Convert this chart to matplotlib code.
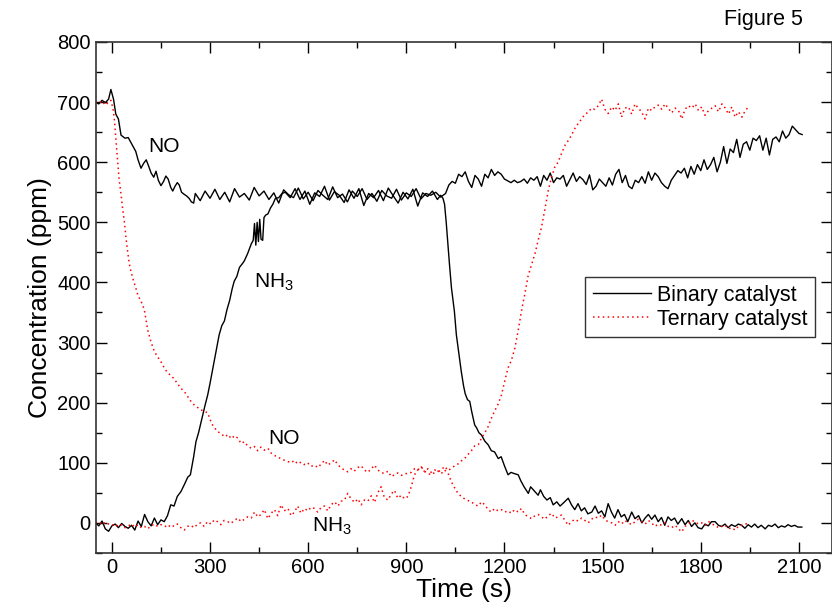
import numpy as np
import matplotlib.pyplot as plt
from matplotlib.ticker import MultipleLocator

plt.rcParams['font.family'] = ['Liberation Sans', 'DejaVu Sans']
plt.rcParams['mathtext.fontset'] = 'custom'
plt.rcParams['mathtext.rm'] = 'Liberation Sans'
plt.rcParams['mathtext.it'] = 'Liberation Sans:italic'

# Binary catalyst, NO
bin_no_t = [-50, -40, -30, -20, -10, -3, 5, 12, 20, 28, 40, 50, 58, 66, 73, 80, 89, 97, 105, 112,
            120, 128, 135, 142, 150, 158, 165, 172, 180, 186, 193, 200, 206, 213, 220, 228, 236, 243, 250,
            255, 270, 285, 300, 315, 330, 345, 360, 375, 390, 405, 420, 435, 450, 465, 480, 495, 510, 525,
            540, 555, 570, 585, 600, 615, 630, 645, 660, 675, 690, 705, 720, 735, 750, 765, 780, 795, 810,
            825, 840, 855, 870, 885, 900, 915, 930, 945, 960, 975, 990, 1005,
            1020, 1030, 1040, 1050, 1060, 1070, 1080, 1090, 1100, 1110, 1120, 1130, 1140, 1150, 1160, 1170,
            1180, 1190, 1200, 1210, 1220, 1230, 1240, 1250, 1260, 1270, 1280, 1290, 1300, 1310, 1320, 1330,
            1340, 1350, 1360, 1370, 1380, 1390, 1400, 1410, 1420, 1430, 1440, 1450, 1460, 1470, 1480, 1490,
            1500, 1510, 1520, 1530, 1540, 1550, 1560, 1570, 1580, 1590, 1600, 1610, 1620, 1630, 1640, 1650,
            1660, 1670, 1680, 1690, 1700, 1710, 1720, 1730, 1740, 1750, 1760, 1770, 1780, 1790, 1800, 1810,
            1820, 1830, 1840, 1850, 1860, 1870, 1880, 1890, 1900, 1910, 1920, 1930, 1940, 1950, 1960, 1970,
            1980, 1990, 2000, 2010, 2020, 2030, 2040, 2050, 2060, 2070, 2080, 2090, 2100, 2110]
bin_no_c = [700, 697, 703, 699, 705, 721, 705, 680, 672, 645, 640, 641, 633, 625, 618, 604, 590, 598, 604, 594,
            582, 575, 585, 570, 561, 568, 577, 572, 558, 552, 560, 566, 562, 550, 547, 544, 540, 534, 532,
            548, 536, 552, 540, 555, 538, 550, 534, 556, 542, 548, 537, 558, 544, 552, 538, 549, 532, 554,
            546, 541, 557, 539, 550, 536, 553, 545, 538, 559, 541, 547, 534, 552, 543, 556, 538, 548, 535,
            553, 544, 540, 555, 537, 549, 543, 556, 539, 548, 545, 550, 542,
            548, 562, 568, 565, 580, 576, 584, 568, 558, 578, 572, 560, 580, 574, 588, 578,
            584, 580, 572, 569, 566, 570, 566, 568, 572, 565, 574, 570, 576, 560, 578, 570,
            582, 566, 574, 572, 578, 560, 571, 582, 568, 576, 571, 563, 579, 554, 560, 572,
            566, 560, 574, 562, 580, 588, 566, 578, 560, 556, 570, 566, 576, 565, 584, 570,
            582, 576, 566, 560, 556, 570, 578, 586, 582, 590, 574, 593, 580, 596, 586, 604,
            588, 596, 608, 584, 600, 626, 598, 622, 616, 638, 608, 630, 634, 620, 640, 636,
            644, 620, 640, 612, 638, 642, 634, 652, 640, 646, 660, 654, 648, 646]

# Binary catalyst, NH3
bin_nh3_t = [-50, -40, -30, -20, -10, 0, 10, 20, 30, 40, 50, 60, 70, 80, 90, 100, 110, 120, 130, 140,
             150, 160, 170, 180, 190, 200, 211, 220, 232, 240, 250, 257, 265, 278, 285, 293, 300, 313, 320,
             328, 336, 344, 352, 360, 368, 374, 382, 390, 400, 405, 415, 426, 432, 436, 440, 444, 448, 452,
             456, 461, 465, 470, 477, 485, 492, 500, 510, 520,
             530, 545, 560, 575, 590, 605, 620, 635, 650, 665, 680, 695, 710, 725, 740, 755, 770, 785, 800,
             815, 830, 845, 860, 875, 890, 905, 920, 935, 950, 965, 980, 995,
             1005, 1012, 1017, 1022, 1027, 1032, 1038, 1047, 1053, 1060, 1068, 1075, 1080, 1087, 1094, 1100,
             1109, 1115, 1122, 1130, 1140, 1150, 1160, 1170, 1181, 1190, 1200, 1211, 1220, 1230, 1242, 1250,
             1260, 1273, 1280, 1290, 1303, 1310, 1320, 1330, 1340, 1349, 1360, 1370, 1380, 1395, 1405, 1415,
             1425, 1435, 1445, 1455, 1467, 1477, 1487, 1497, 1507, 1517, 1527, 1537, 1547, 1557, 1567, 1577,
             1589, 1599, 1610, 1620, 1630, 1640, 1650, 1660, 1670, 1680, 1690, 1700, 1710, 1720, 1730, 1742,
             1752, 1762, 1772, 1782, 1792, 1803, 1813, 1823, 1833, 1844, 1854, 1864, 1874, 1884, 1894, 1905,
             1915, 1925, 1935, 1945, 1955, 1965, 1975, 1985, 1997, 2007, 2017, 2027, 2037, 2047, 2057, 2067,
             2077, 2087, 2097, 2109]
bin_nh3_c = [0, -5, 3, -10, -14, -5, -2, -8, -1, -6, -9, -4, -12, 3, -6, 14, 2, -5, 8, -3,
             5, 2, 12, 30, 28, 44, 52, 62, 76, 80, 110, 135, 150, 180, 196, 213, 232, 270, 290,
             313, 328, 336, 355, 370, 390, 402, 410, 425, 432, 436, 448, 464, 470, 498, 462, 500, 468, 505,
             472, 470, 508, 512, 514, 524, 530, 540, 541, 548,
             550, 541, 556, 538, 552, 530, 549, 543, 560, 537, 551, 545, 533, 554, 540, 556, 528, 548, 541,
             553, 536, 557, 544, 532, 550, 539, 555, 527, 549, 543, 552, 538,
             545, 540, 530, 500, 464, 430, 391, 352, 313, 285, 252, 228, 215, 205, 202, 185,
             163, 158, 150, 146, 136, 130, 120, 118, 107, 110, 95, 80, 84, 82, 80, 70,
             60, 49, 60, 54, 46, 55, 44, 38, 42, 30, 35, 28, 33, 41, 30, 22,
             32, 20, 25, 15, 18, 28, 16, 20, 10, 32, 18, 8, 22, 10, 14, 2,
             18, 7, 12, 0, 8, 14, 6, 13, 2, 9, -4, 10, 4, 8, -2, 7,
             -3, 4, -6, 0, -8, -10, -2, -5, 2, 2, -4, -6, -2, -8, -3, -6,
             -2, -4, -9, -3, -7, -2, -8, -4, -10, -4, -6, -2, -8, -5, -7, -3,
             -6, -4, -7, -7]

# Ternary catalyst, NO
ter_no_t = [-50, -40, -30, -20, -10, -3, 3, 7, 12, 17, 22, 28, 33, 38, 43, 48, 53, 58, 65, 73,
            80, 89, 99, 110, 119, 130, 140, 150, 160, 170, 180, 190, 200, 211, 222, 232, 242, 252, 262, 272,
            282, 293, 305, 314, 323, 335, 345, 355, 365, 375, 385, 395, 405, 415, 426, 436, 446, 456, 466, 477,
            487, 497, 507, 518, 528, 538, 548, 558, 568, 578, 588, 598, 609, 619, 630, 640, 650, 660, 670, 681,
            690, 700, 710, 721, 731, 741, 751, 762, 772, 782, 793, 803, 813, 823, 833, 844, 854, 864, 874, 885,
            895, 905, 915, 925, 935, 946, 956, 966, 977, 987, 997, 1007, 1017, 1028, 1038, 1048, 1058, 1068,
            1078, 1089, 1099, 1110, 1120, 1130, 1140, 1150, 1160, 1170, 1180, 1191, 1201, 1211, 1221, 1231,
            1242, 1252, 1262, 1273, 1283, 1293, 1303, 1313, 1323, 1334, 1344, 1354, 1364, 1374, 1385, 1395,
            1405, 1415, 1425, 1436, 1446, 1456, 1466, 1476, 1487, 1497, 1507, 1517, 1528, 1538, 1548, 1558,
            1568, 1579, 1589, 1599, 1609, 1619, 1630, 1640, 1650, 1660, 1670, 1681, 1691, 1701, 1711, 1722,
            1732, 1742, 1752, 1762, 1773, 1783, 1793, 1803, 1814, 1824, 1834, 1844, 1854, 1865, 1875, 1885,
            1895, 1905, 1915, 1926, 1936, 1946]
ter_no_c = [700, 698, 702, 695, 700, 703, 690, 675, 640, 603, 572, 547, 522, 502, 475, 452, 432, 419, 405, 391,
            378, 369, 355, 320, 302, 285, 276, 268, 258, 250, 245, 240, 232, 224, 218, 210, 202, 196, 192, 188,
            186, 183, 165, 158, 152, 148, 143, 147, 140, 145, 141, 132, 135, 128, 124, 127, 120, 126, 121, 124,
            116, 112, 110, 106, 104, 102, 100, 104, 98, 101, 97, 100, 94, 96, 92, 98, 104, 96, 100, 105,
            97, 92, 88, 85, 90, 86, 92, 95, 88, 84, 90, 96, 88, 84, 82, 86, 77, 80, 83, 79,
            82, 82, 84, 90, 88, 93, 86, 82, 80, 84, 86, 82, 88, 82, 68, 58, 49, 44,
            40, 37, 35, 30, 28, 35, 30, 22, 18, 24, 20, 22, 18, 20, 16, 22,
            18, 24, 14, 10, 7, 12, 14, 10, 6, 12, 16, 8, 10, 13, 4, -4,
            2, 6, 3, 8, 4, 0, 6, 10, 8, 13, 5, 2, 0, -4, 2, -2,
            4, 0, -3, 2, 6, 2, -2, 4, 0, -6, -2, -4, 0, -6, -8, -4,
            -10, -15, -6, -2, 4, 2, -2, 0, -4, 2, -2, -4, -8, -6, -4, -10,
            -8, -12, -6, -4, -1, -3]

# Ternary catalyst, NH3
ter_nh3_t = [-50, -40, -30, -20, -10, 0, 10, 20, 30, 40, 50, 60, 70, 80, 90, 100, 109, 120, 130, 140,
             150, 160, 170, 180, 190, 200, 211, 221, 231, 241, 251, 262, 272, 282, 292, 303, 313, 323, 333, 343,
             354, 364, 374, 385, 395, 405, 415, 426, 436, 446, 456, 466, 477, 487, 497, 507, 517, 527, 538, 548,
             558, 568, 578, 589, 599, 609, 619, 629, 640, 650, 660, 670, 681, 691, 701, 711, 721, 731, 742, 752,
             762, 772, 782, 793, 803, 813, 823, 833, 844, 854, 864, 874, 885, 895, 905, 915, 925, 935, 946, 956,
             966, 976, 987, 997, 1007, 1017, 1028, 1038, 1048, 1058, 1068, 1078, 1089, 1099, 1109, 1120, 1130,
             1140, 1150, 1160, 1170, 1181, 1191, 1201, 1211, 1221, 1232, 1242, 1252, 1262, 1272, 1283, 1293,
             1303, 1313, 1323, 1334, 1344, 1354, 1364, 1374, 1385, 1395, 1405, 1415, 1425, 1436, 1446, 1456,
             1466, 1476, 1487, 1497, 1507, 1517, 1528, 1538, 1548, 1558, 1568, 1579, 1589, 1599, 1609, 1619,
             1630, 1640, 1650, 1660, 1670, 1681, 1691, 1701, 1711, 1722, 1732, 1742, 1752, 1762, 1773, 1783,
             1793, 1803, 1813, 1824, 1834, 1844, 1854, 1865, 1875, 1885, 1895, 1905, 1915, 1926, 1936, 1946]
ter_nh3_c = [0, 2, -3, 1, -2, -4, -2, -6, -3, -8, -5, -2, -7, -3, -8, -6, -10, -5, -2, -6,
             -3, -4, -8, -3, -6, -2, -8, -12, -6, -4, -8, -2, 0, -6, 2, -2, 5, 2, -3, 4,
             2, -1, 4, 8, 2, 6, 10, 8, 18, 10, 14, 22, 7, 16, 22, 12, 30, 20, 24, 12,
             18, 28, 16, 24, 20, 26, 24, 18, 26, 28, 20, 30, 35, 28, 36, 38, 49, 40, 34, 40,
             30, 38, 36, 45, 34, 50, 60, 42, 38, 48, 54, 41, 46, 40, 44, 60, 80, 88, 93, 85,
             90, 84, 88, 85, 88, 94, 87, 91, 95, 98, 103, 107, 114, 120, 128, 130, 141,
             150, 160, 174, 186, 198, 213, 236, 258, 270, 291, 320, 352, 380, 410, 430, 447,
             470, 491, 520, 553, 575, 592, 600, 614, 628, 636, 645, 656, 664, 672, 680, 683,
             690, 688, 694, 705, 688, 681, 692, 686, 697, 675, 690, 692, 680, 697, 690, 684,
             672, 690, 686, 692, 695, 688, 697, 690, 682, 690, 686, 672, 688, 694, 690, 697,
             686, 692, 678, 686, 690, 694, 684, 697, 690, 680, 692, 675, 684, 675, 686, 692]

fig = plt.figure(figsize=(8.32, 6.13), dpi=100)
ax = fig.add_axes([0.1148, 0.098, 0.8847, 0.8335])

ax.plot(bin_no_t, bin_no_c, color='black', lw=1.0, label='Binary catalyst')
ax.plot(bin_nh3_t, bin_nh3_c, color='black', lw=1.0)
ax.plot(ter_no_t, ter_no_c, color='red', lw=1.1, ls=(0, (1, 2.2)), label='Ternary catalyst')
ax.plot(ter_nh3_t, ter_nh3_c, color='red', lw=1.1, ls=(0, (1, 2.2)))

ax.set_xlim(-50, 2200)
ax.set_ylim(-50, 800)
ax.xaxis.set_major_locator(MultipleLocator(300))
ax.xaxis.set_minor_locator(MultipleLocator(150))
ax.yaxis.set_major_locator(MultipleLocator(100))
ax.yaxis.set_minor_locator(MultipleLocator(50))
ax.tick_params(which='both', direction='in', top=True, right=True, labelsize=14.5, width=1)
ax.tick_params(which='major', length=8)
ax.tick_params(which='minor', length=4)
for s in ax.spines.values():
    s.set_linewidth(1.2)
    s.set_color('#333333')

ax.set_xlabel('Time (s)', fontsize=19, labelpad=1)
ax.set_ylabel('Concentration (ppm)', fontsize=19, labelpad=4)

ax.text(158, 626, 'NO', fontsize=15, ha='center', va='center')
ax.text(495, 400, 'NH$_3$', fontsize=15, ha='center', va='center')
ax.text(525, 140, 'NO', fontsize=15, ha='center', va='center')
ax.text(672, -5, 'NH$_3$', fontsize=15, ha='center', va='center')

fig.text(0.965, 0.985, 'Figure 5', fontsize=15.5, ha='right', va='top')

leg = ax.legend(loc='upper left', bbox_to_anchor=(0.665, 0.54), fontsize=15.5, frameon=True,
                fancybox=False, edgecolor='black', handlelength=2.7, handletextpad=0.3,
                borderpad=0.35, labelspacing=0.15, borderaxespad=0)
leg.get_frame().set_linewidth(1.0)

plt.savefig('out.png', dpi=100)
